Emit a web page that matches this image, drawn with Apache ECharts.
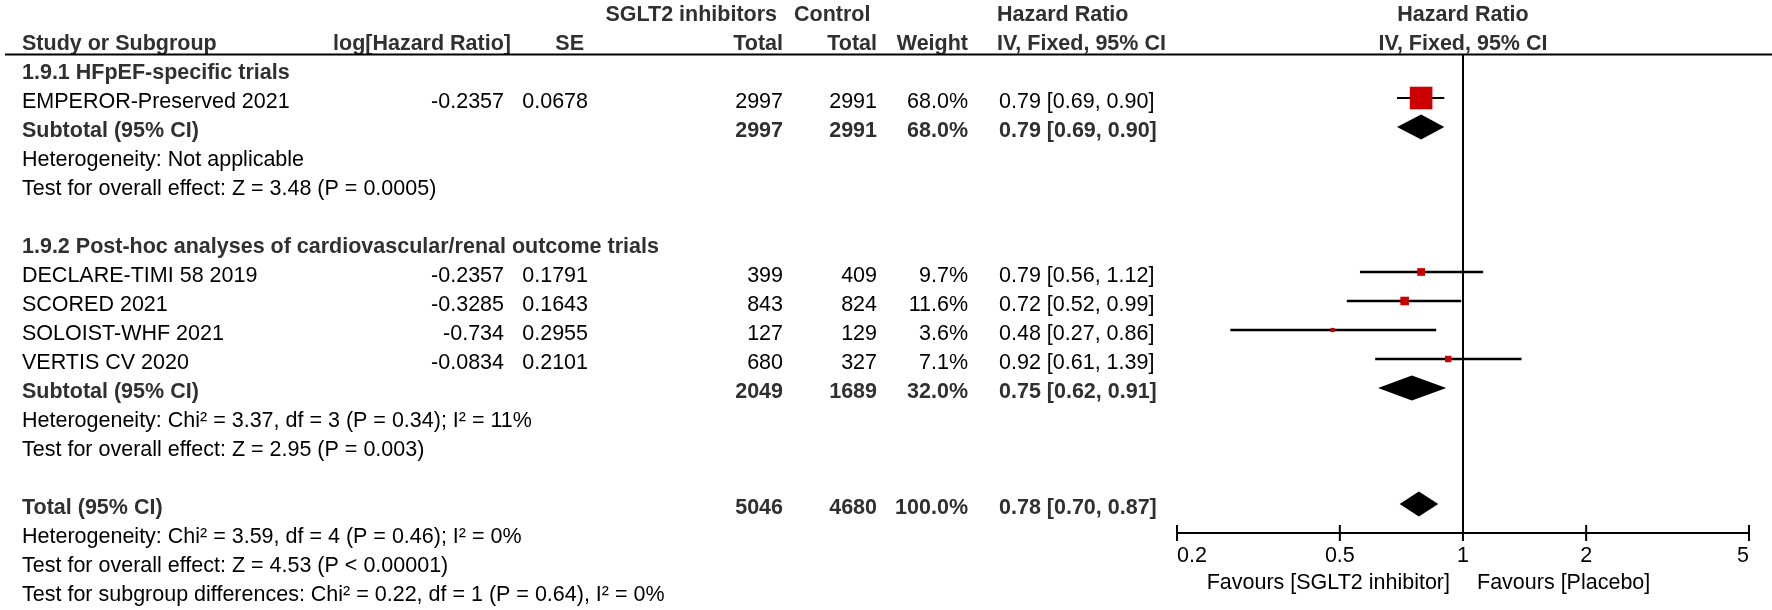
<!DOCTYPE html>
<html><head><meta charset="utf-8">
<script src="https://cdn.jsdelivr.net/npm/echarts@6/dist/echarts.min.js"></script>
<style>html,body{margin:0;padding:0;background:#fff}#c{width:1772px;height:610px}</style>
</head><body><div id="c"></div>
<script>
// ---------------- data ----------------
const studyNames = ['EMPEROR-Preserved 2021', 'DECLARE-TIMI 58 2019', 'SCORED 2021', 'SOLOIST-WHF 2021', 'VERTIS CV 2020'];
const studyRows = [3, 9, 10, 11, 12];
const logHR = ['-0.2357', '-0.2357', '-0.3285', '-0.734', '-0.0834'];
const seValues = ['0.0678', '0.1791', '0.1643', '0.2955', '0.2101'];
const sgltTotals = [2997, 399, 843, 127, 680];
const controlTotals = [2991, 409, 824, 129, 327];
const weights = [68.0, 9.7, 11.6, 3.6, 7.1];
const hrEst = [0.79, 0.79, 0.72, 0.48, 0.92];
const hrLow = [0.69, 0.56, 0.52, 0.27, 0.61];
const hrHigh = [0.90, 1.12, 0.99, 0.86, 1.39];

const pooledNames = ['Subtotal (95% CI)', 'Subtotal (95% CI)', 'Total (95% CI)'];
const pooledRows = [4, 13, 17];
const pooledSglt = [2997, 2049, 5046];
const pooledControl = [2991, 1689, 4680];
const pooledWeights = [68.0, 32.0, 100.0];
const pooledEst = [0.79, 0.75, 0.78];
const pooledLow = [0.69, 0.62, 0.70];
const pooledHigh = [0.90, 0.91, 0.87];

const groupHeadings = ['1.9.1 HFpEF-specific trials', '1.9.2 Post-hoc analyses of cardiovascular/renal outcome trials'];
const groupRows = [2, 8];

const noteTexts = [
  'Heterogeneity: Not applicable',
  'Test for overall effect: Z = 3.48 (P = 0.0005)',
  'Heterogeneity: Chi\u00b2 = 3.37, df = 3 (P = 0.34); I\u00b2 = 11%',
  'Test for overall effect: Z = 2.95 (P = 0.003)',
  'Heterogeneity: Chi\u00b2 = 3.59, df = 4 (P = 0.46); I\u00b2 = 0%',
  'Test for overall effect: Z = 4.53 (P < 0.00001)',
  'Test for subgroup differences: Chi\u00b2 = 0.22, df = 1 (P = 0.64), I\u00b2 = 0%'
];
const noteRows = [5, 6, 14, 15, 18, 19, 20];

const tickValues = [0.2, 0.5, 1, 2, 5];
const tickLabels = ['0.2', '0.5', '1', '2', '5'];
const favourLeft = 'Favours [SGLT2 inhibitor]';
const favourRight = 'Favours [Placebo]';

// ---------------- layout / style ----------------
const FONT = '"Liberation Sans", Arial, Helvetica, sans-serif';
const FS = 21.5;
const ROW_TOP = 11, ROW_H = 29.0, N_ROWS = 20, AXIS_ROW = 18, RULE_ROW = 1.5;
const REG = '#000000', BOLDC = '#303030', RED = '#cc0000';
const COL = {
  name: [22, 'left'], logHR: [504, 'right'], se: [588, 'right'],
  t1: [783, 'right'], t2: [877, 'right'], w: [968, 'right'], ci: [999, 'left'],
  h1a: [777, 'right'], h1b: [794, 'left'], hrHead: [997, 'left'], plotHead: [1463, 'center'],
  hLog: [511, 'right'], hSE: [584, 'right']
};
const PLOT_LEFT = 1177, PLOT_WIDTH = 572;

const texts = [];
function addText(col, row, text, bold) { texts.push({ x: COL[col][0], align: COL[col][1], row, text, bold: !!bold }); }
const fmtCI = (e, l, h) => `${e.toFixed(2)} [${l.toFixed(2)}, ${h.toFixed(2)}]`;

// headers
addText('h1a', 0, 'SGLT2 inhibitors', true);
addText('h1b', 0, 'Control', true);
addText('hrHead', 0, 'Hazard Ratio', true);
addText('plotHead', 0, 'Hazard Ratio', true);
addText('name', 1, 'Study or Subgroup', true);
addText('hLog', 1, 'log[Hazard Ratio]', true);
addText('hSE', 1, 'SE', true);
addText('t1', 1, 'Total', true);
addText('t2', 1, 'Total', true);
addText('w', 1, 'Weight', true);
addText('hrHead', 1, 'IV, Fixed, 95% CI', true);
addText('plotHead', 1, 'IV, Fixed, 95% CI', true);
groupHeadings.forEach((t, i) => addText('name', groupRows[i], t, true));
studyNames.forEach((n, i) => {
  const r = studyRows[i];
  addText('name', r, n);
  addText('logHR', r, logHR[i]);
  addText('se', r, seValues[i]);
  addText('t1', r, String(sgltTotals[i]));
  addText('t2', r, String(controlTotals[i]));
  addText('w', r, weights[i].toFixed(1) + '%');
  addText('ci', r, fmtCI(hrEst[i], hrLow[i], hrHigh[i]));
});
pooledNames.forEach((n, i) => {
  const r = pooledRows[i];
  addText('name', r, n, true);
  addText('t1', r, String(pooledSglt[i]), true);
  addText('t2', r, String(pooledControl[i]), true);
  addText('w', r, pooledWeights[i].toFixed(1) + '%', true);
  addText('ci', r, fmtCI(pooledEst[i], pooledLow[i], pooledHigh[i]), true);
});
noteTexts.forEach((t, i) => addText('name', noteRows[i], t));

const chart = echarts.init(document.getElementById('c'), null, { renderer: 'canvas' });
const L = Math.log;

const option = {
  backgroundColor: '#ffffff',
  animation: false,
  grid: [
    { left: 0, width: 1772, top: ROW_TOP, height: N_ROWS * ROW_H },
    { left: PLOT_LEFT, width: PLOT_WIDTH, top: ROW_TOP + RULE_ROW * ROW_H, height: (AXIS_ROW - RULE_ROW) * ROW_H }
  ],
  xAxis: [
    { gridIndex: 0, type: 'value', min: 0, max: 1772, show: false },
    {
      gridIndex: 1, type: 'value', min: L(tickValues[0]), max: L(tickValues[tickValues.length - 1]),
      splitLine: { show: false },
      axisLine: { show: true, onZero: false, lineStyle: { color: '#000', width: 2 } },
      axisTick: { show: false },
      axisLabel: {
        show: true, customValues: tickValues.map(L), margin: 12,
        color: REG, fontSize: FS, fontFamily: FONT,
        alignMinLabel: 'left', alignMaxLabel: 'right',
        showMinLabel: true, showMaxLabel: true,
        formatter: (v) => {
          let best = 0;
          tickValues.forEach((t, i) => { if (Math.abs(L(t) - v) < Math.abs(L(tickValues[best]) - v)) best = i; });
          return tickLabels[best];
        }
      }
    }
  ],
  yAxis: [
    { gridIndex: 0, type: 'value', min: 0, max: N_ROWS, inverse: true, show: false },
    { gridIndex: 1, type: 'value', min: RULE_ROW, max: AXIS_ROW, inverse: true, show: false }
  ],
  series: [
    // header rule
    {
      type: 'line', xAxisIndex: 0, yAxisIndex: 0, symbol: 'none', silent: true,
      data: [[5, RULE_ROW], [1772, RULE_ROW]], lineStyle: { color: '#000', width: 2 }
    },
    // table text
    {
      type: 'custom', xAxisIndex: 0, yAxisIndex: 0, silent: true, clip: false,
      data: texts.map(t => [t.x, t.row]),
      renderItem: (params, api) => {
        const t = texts[params.dataIndex];
        const p = api.coord([api.value(0), api.value(1)]);
        return {
          type: 'text', x: p[0], y: p[1] + 4,
          style: {
            text: t.text, align: t.align, verticalAlign: 'middle',
            font: (t.bold ? 'bold ' : '') + FS + 'px ' + FONT,
            fill: t.bold ? BOLDC : REG
          }
        };
      }
    },
    // line of no effect
    {
      type: 'line', xAxisIndex: 1, yAxisIndex: 1, symbol: 'none', silent: true,
      data: [[L(1), RULE_ROW], [L(1), AXIS_ROW]], lineStyle: { color: '#000', width: 2 }
    },
    // axis ticks crossing the axis line
    {
      type: 'custom', xAxisIndex: 1, yAxisIndex: 1, silent: true, clip: false,
      data: tickValues.map(v => [L(v), AXIS_ROW]),
      renderItem: (params, api) => {
        const p = api.coord([api.value(0), api.value(1)]);
        return { type: 'line', shape: { x1: p[0], y1: p[1] - 8, x2: p[0], y2: p[1] + 8 }, style: { stroke: '#000', lineWidth: 2 } };
      }
    },
    // study CIs + squares
    {
      type: 'custom', xAxisIndex: 1, yAxisIndex: 1, silent: true, clip: false,
      data: hrEst.map((e, i) => [L(e), studyRows[i], L(hrLow[i]), L(hrHigh[i]), weights[i]]),
      renderItem: (params, api) => {
        const c = api.coord([api.value(0), api.value(1)]);
        const lo = api.coord([api.value(2), api.value(1)]);
        const hi = api.coord([api.value(3), api.value(1)]);
        const s = 2.9 * Math.sqrt(api.value(4)) - 1.3;
        const y = c[1];
        return {
          type: 'group', children: [
            { type: 'line', shape: { x1: lo[0], y1: y, x2: hi[0], y2: y }, style: { stroke: '#000', lineWidth: api.value(4) > 50 ? 2 : 2.5 } },
            { type: 'rect', shape: { x: c[0] - s / 2, y: y - s / 2, width: s, height: s }, style: { fill: RED } }
          ]
        };
      }
    },
    // pooled diamonds
    {
      type: 'custom', xAxisIndex: 1, yAxisIndex: 1, silent: true, clip: false,
      data: pooledEst.map((e, i) => [L(e), pooledRows[i], L(pooledLow[i]), L(pooledHigh[i])]),
      renderItem: (params, api) => {
        const c = api.coord([api.value(0), api.value(1)]);
        const lo = api.coord([api.value(2), api.value(1)]);
        const hi = api.coord([api.value(3), api.value(1)]);
        const h = 12.5, y = c[1];
        return {
          type: 'polygon',
          shape: { points: [[lo[0], y], [c[0], y - h], [hi[0], y], [c[0], y + h]] },
          style: { fill: '#000' }
        };
      }
    }
  ]
};
chart.setOption(option);

const base = chart.convertToPixel({ xAxisIndex: 1, yAxisIndex: 1 }, [L(1), AXIS_ROW]);
chart.setOption({
  graphic: [
    { type: 'text', x: base[0] - 13, y: base[1] + 50, silent: true,
      style: { text: favourLeft, align: 'right', verticalAlign: 'middle', font: FS + 'px ' + FONT, fill: REG } },
    { type: 'text', x: base[0] + 14, y: base[1] + 50, silent: true,
      style: { text: favourRight, align: 'left', verticalAlign: 'middle', font: FS + 'px ' + FONT, fill: REG } }
  ]
});
</script></body></html>
